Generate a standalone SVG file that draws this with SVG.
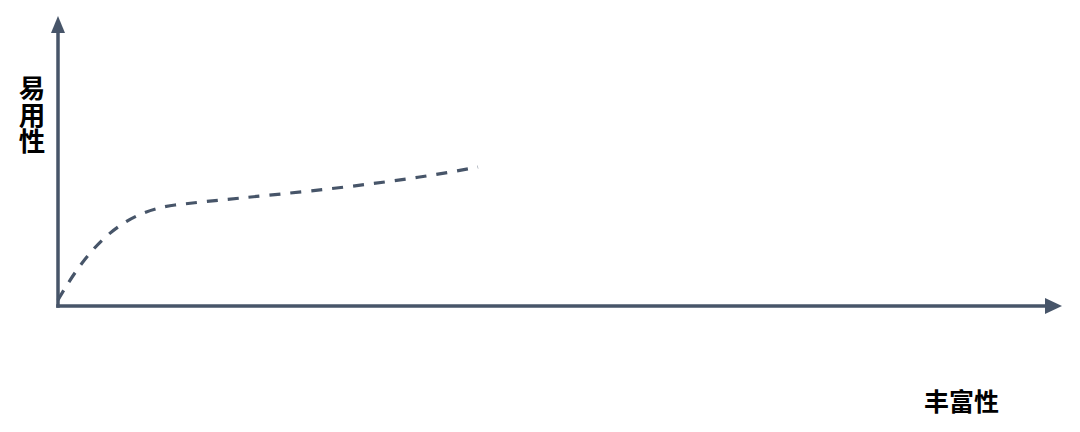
<svg xmlns="http://www.w3.org/2000/svg" width="1080" height="432" viewBox="0 0 1080 432">
<style>
.axis{stroke:#475569;stroke-width:3.5;fill:none}
.head{fill:#475569}
.curve{stroke:#475569;stroke-width:3.2;fill:none;stroke-dasharray:11 10}
.lbl{font-family:"Noto Sans CJK SC","Noto Sans",sans-serif;font-weight:bold;font-size:25px;fill:#000}
</style>
<rect width="1080" height="432" fill="#fff"/>
<g id="connectors">
<path id="y-axis" class="axis" d="M58,307.75 L58,30"/>
<polygon class="head" points="58,16 65,33 51,33"/>
<path id="x-axis" class="axis" d="M56.25,306 L1048,306"/>
<polygon class="head" points="1062,306 1045,298 1045,314"/>
<path id="curve" class="curve" d="M58,300 C88,248 120,212 175,205 C250,196 370,188 478,167"/>
</g>
<g id="y-label">
<text class="lbl" x="32" y="75" style="writing-mode:vertical-rl;font-size:26.5px">易用性</text>
</g>
<g id="x-label">
<text class="lbl" x="924" y="411">丰富性</text>
</g>
</svg>
